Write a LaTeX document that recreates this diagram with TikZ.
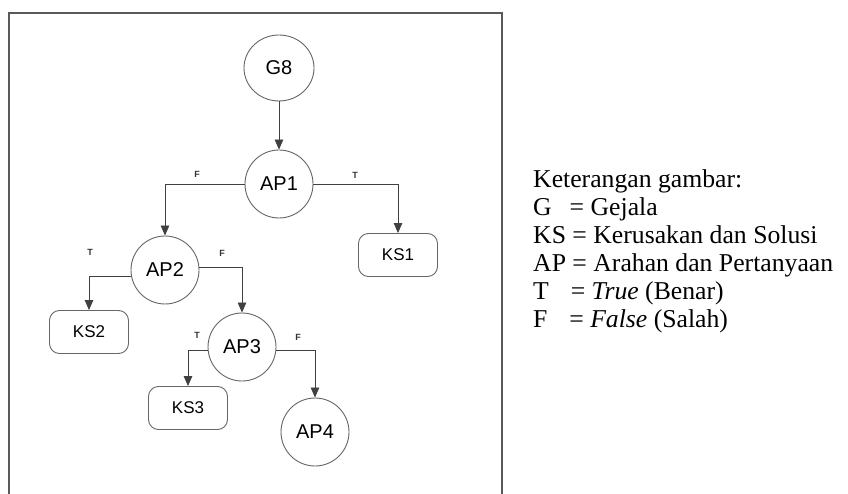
\documentclass[tikz,border=0pt]{standalone}
\usepackage{fontspec}
\setmainfont{Liberation Serif}
\newfontfamily\arialfont{Liberation Sans}
\usetikzlibrary{arrows.meta,shapes.geometric}
\begin{document}
\begin{tikzpicture}[x=1pt,y=-1pt,
  frameline/.style={draw=black!65,line width=1.6pt},
  decision/.style={circle,draw=black!60,line width=0.9pt,minimum size=68pt,inner sep=0pt,font=\arialfont\fontsize{20}{22}\selectfont},
  startnode/.style={ellipse,draw=black!60,line width=0.9pt,minimum width=70pt,minimum height=66pt,inner sep=0pt,font=\arialfont\fontsize{20}{22}\selectfont},
  result/.style={rectangle,rounded corners=10pt,draw=black!60,line width=0.9pt,minimum width=79pt,minimum height=43pt,inner sep=0pt,font=\arialfont\fontsize{17}{19}\selectfont},
  link/.style={draw=black!75,line width=0.8pt,-{Triangle[length=10pt,width=8.5pt]}},
  branch/.style={font=\arialfont\bfseries\fontsize{9}{10}\selectfont,text=black!80,inner sep=0pt},
  legend/.style={align=left,anchor=north west,inner sep=0pt,font=\fontsize{25.7}{28}\selectfont}]
\useasboundingbox (0,0) rectangle (848,494);
\fill[white] (0,0) rectangle (848,494);

% open frame around the tree
\draw[frameline] (9,494) -- (9,13) -- (502,13) -- (502,494);

% nodes
\node[startnode] (G8)  at (279,68)  {G8};
\node[decision]  (AP1) at (279,184) {AP1};
\node[decision]  (AP2) at (165,270) {AP2};
\node[decision]  (AP3) at (242,347) {AP3};
\node[decision]  (AP4) at (315,432) {AP4};
\node[result]    (KS1) at (398,255) {KS1};
\node[result]    (KS2) at (89,332)  {KS2};
\node[result]    (KS3) at (188,408) {KS3};

% connectors
\draw[link] (G8) -- (AP1);
\draw[link] (AP1.west) -| (AP2.north);
\draw[link] (AP1.east) -| (KS1.north);
\draw[link] (AP2.190) -| (KS2.north);
\draw[link] (AP2.5) -| (AP3.north);
\draw[link] (AP3.186) -| (KS3.north);
\draw[link] (AP3.354) -| (AP4.north);

% branch labels
\node[branch] (lF1) at (197,174) {F};
\node[branch] (lT1) at (355,175) {T};
\node[branch] (lT2) at (90,252)  {T};
\node[branch] (lF2) at (222,253) {F};
\node[branch] (lT3) at (197,335) {T};
\node[branch] (lF3) at (298,337) {F};

% key to the abbreviations
\node[legend] (key) at (533,169) {Keterangan gambar:\\
G\hspace{0.7em}= Gejala\\
KS = Kerusakan dan Solusi\\
AP = Arahan dan Pertanyaan\\
T\hspace{0.85em}= \textit{True} (Benar)\\
F\hspace{0.85em}= \textit{False} (Salah)};
\end{tikzpicture}
\end{document}
